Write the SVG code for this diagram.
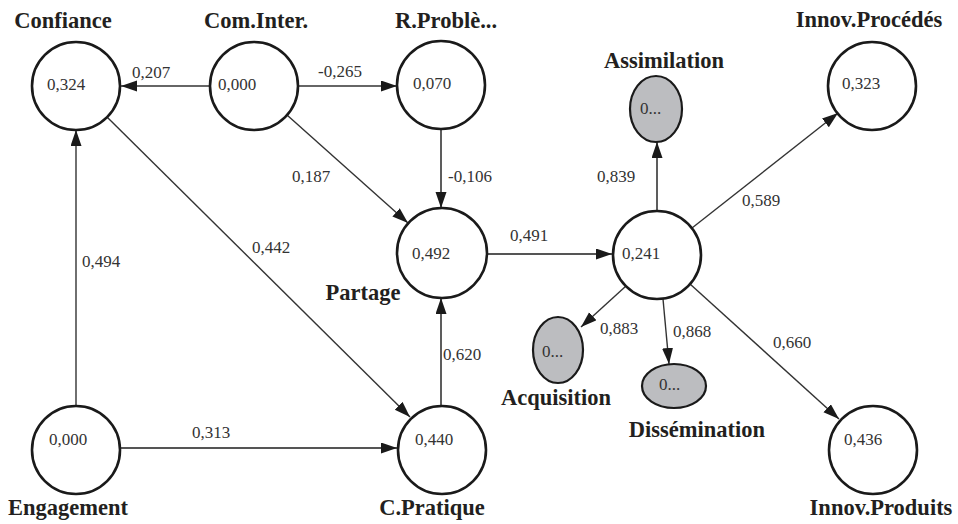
<svg xmlns="http://www.w3.org/2000/svg" width="958" height="524" viewBox="0 0 958 524">
<style>
.node{fill:#fff;stroke:#1a1a1a;stroke-width:2.6}
.ind{fill:#bcbdc0;stroke:#1a1a1a;stroke-width:2.2}
.lbl{font-family:"Liberation Serif",serif;font-weight:bold;font-size:22.5px;fill:#231f20;text-anchor:middle}
.val{font-family:"Liberation Serif",serif;font-size:17px;fill:#333}
.edge{fill:none;stroke:#333;stroke-width:1.4;marker-end:url(#ah)}
.edge2{fill:none;stroke:#555;stroke-width:1.9;marker-end:url(#ah)}
.el{font-family:"Liberation Serif",serif;font-size:17px;fill:#333}
</style>
<defs>
<marker id="ah" markerUnits="userSpaceOnUse" markerWidth="17" markerHeight="12" refX="16" refY="5.5" orient="auto">
<path d="M0,0 L16,5.5 L0,11 z" fill="#1a1a1a"/>
</marker>
</defs>
<g id="connectors">
<line class="edge" x1="210" y1="86" x2="121" y2="86"/>
<line class="edge" x1="298" y1="86" x2="397" y2="86"/>
<line class="edge" x1="287" y1="115" x2="408" y2="223"/>
<line class="edge2" x1="441" y1="129" x2="441" y2="208"/>
<line class="edge" x1="107" y1="117" x2="410" y2="417"/>
<line class="edge" x1="76" y1="406" x2="76" y2="130"/>
<line class="edge2" x1="120" y1="448" x2="397" y2="448"/>
<line class="edge2" x1="441" y1="405" x2="441" y2="298"/>
<line class="edge2" x1="487" y1="254" x2="612" y2="254"/>
<line class="edge2" x1="657" y1="211" x2="657" y2="142"/>
<line class="edge" x1="692" y1="228" x2="838" y2="113"/>
<line class="edge" x1="626" y1="286" x2="581" y2="327"/>
<line class="edge" x1="663" y1="299" x2="669" y2="364"/>
<line class="edge" x1="690" y1="284" x2="839" y2="419"/>
<text class="el" x="132" y="78">0,207</text>
<text class="el" x="318" y="77">-0,265</text>
<text class="el" x="292" y="182">0,187</text>
<text class="el" x="448" y="182">-0,106</text>
<text class="el" x="252" y="253">0,442</text>
<text class="el" x="82" y="267">0,494</text>
<text class="el" x="192" y="438">0,313</text>
<text class="el" x="443" y="360">0,620</text>
<text class="el" x="510" y="241">0,491</text>
<text class="el" x="597" y="182">0,839</text>
<text class="el" x="742" y="206">0,589</text>
<text class="el" x="600" y="334">0,883</text>
<text class="el" x="673" y="337">0,868</text>
<text class="el" x="773" y="348">0,660</text>
</g>
<g id="confiance"><circle class="node" cx="76" cy="86" r="44"/><text class="val" x="47" y="90">0,324</text><text class="lbl" x="63" y="28">Confiance</text></g>
<g id="com-inter"><circle class="node" cx="254" cy="86" r="44"/><text class="val" x="218" y="90">0,000</text><text class="lbl" x="256" y="28">Com.Inter.</text></g>
<g id="r-probleme"><circle class="node" cx="441" cy="85" r="44"/><text class="val" x="413" y="89">0,070</text><text class="lbl" x="446" y="28">R.Problè...</text></g>
<g id="partage"><circle class="node" cx="442" cy="253" r="45"/><text class="val" x="412" y="259">0,492</text><text class="lbl" x="363" y="300">Partage</text></g>
<g id="central"><circle class="node" cx="657" cy="255" r="44"/><text class="val" x="622" y="259">0,241</text></g>
<g id="assimilation"><ellipse class="ind" cx="656" cy="109" rx="26" ry="33"/><text class="val" x="640" y="114">0...</text><text class="lbl" x="664" y="68">Assimilation</text></g>
<g id="innov-procedes"><circle class="node" cx="872" cy="86" r="44"/><text class="val" x="842" y="89">0,323</text><text class="lbl" x="869" y="27">Innov.Procédés</text></g>
<g id="acquisition"><ellipse class="ind" cx="558" cy="350" rx="25" ry="33"/><text class="val" x="542" y="357">0...</text><text class="lbl" x="556" y="405">Acquisition</text></g>
<g id="dissemination"><ellipse class="ind" cx="674" cy="386" rx="32" ry="22"/><text class="val" x="659" y="390">0...</text><text class="lbl" x="697" y="437">Dissémination</text></g>
<g id="engagement"><circle class="node" cx="76" cy="450" r="44"/><text class="val" x="49" y="445">0,000</text><text class="lbl" x="68" y="515">Engagement</text></g>
<g id="c-pratique"><circle class="node" cx="442" cy="450" r="44"/><text class="val" x="415" y="445">0,440</text><text class="lbl" x="432" y="515">C.Pratique</text></g>
<g id="innov-produits"><circle class="node" cx="873" cy="450" r="44"/><text class="val" x="844" y="445">0,436</text><text class="lbl" x="881" y="515">Innov.Produits</text></g>
</svg>
